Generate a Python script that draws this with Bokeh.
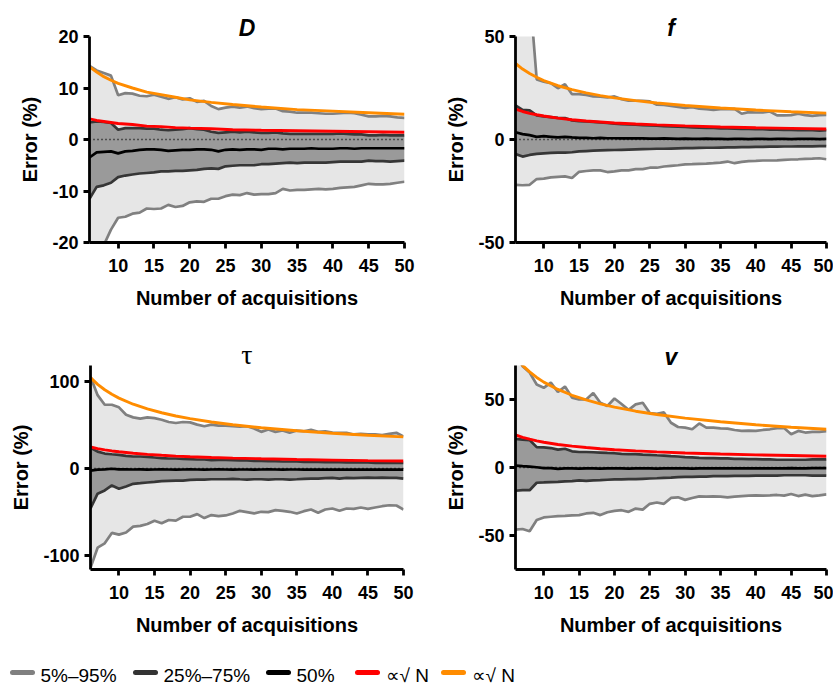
from bokeh.plotting import figure
from bokeh.models import Range1d, FixedTicker, Span, PrintfTickFormatter
from bokeh.layouts import column, row
from bokeh.embed import file_html
from bokeh.resources import INLINE
from bokeh.core.properties import value

# ---------------- data ----------------
N = list(range(6, 51))
X_TICKS = [10, 15, 20, 25, 30, 35, 40, 45, 50]
N_CURVE = [6, 7, 8, 9, 10, 12, 14, 16, 18, 20, 23, 26, 30, 35, 40, 45, 50]

# Panel D
D_P95 = [14.3, 13.4, 12.9, 12.4,
         8.6, 9.0, 8.9, 8.5, 8.4, 8.7, 8.3, 7.9, 8.2, 7.8,
         8.0, 7.3, 7.5, 6.5, 5.9, 6.2, 6.4, 6.2, 6.4, 6.1,
         5.9, 6.0, 6.0, 5.5, 5.4, 5.2, 5.2, 5.2, 5.1, 5.0,
         5.0, 5.1, 5.2, 5.1, 4.8, 4.5, 4.5, 4.6, 4.5, 4.3, 4.2]
D_P75 = [3.3, 3.5, 3.4, 3.2,
         1.9, 2.2, 2.2, 2.2, 2.1, 2.1, 1.9, 1.8, 1.9, 2.0,
         2.2, 2.0, 1.9, 1.5, 1.3, 1.4, 1.5, 1.4, 1.5, 1.4,
         1.3, 1.3, 1.4, 1.2, 1.1, 1.1, 1.1, 1.1, 1.1, 1.1,
         1.1, 1.2, 1.1, 1.0, 1.0, 0.8, 0.8, 0.9, 0.8, 0.8, 0.8]
D_P50 = [-3.5, -2.5, -2.4, -2.3,
         -2.7, -2.3, -2.2, -2.0, -1.9, -1.9, -2.0, -2.2, -2.1, -2.0,
         -2.0, -1.9, -1.9, -2.0, -2.3, -2.0, -1.9, -2.0, -1.9, -1.9,
         -2.0, -1.8, -1.8, -1.9, -1.8, -1.8, -1.8, -1.7, -1.8, -1.8,
         -1.8, -1.7, -1.7, -1.8, -1.7, -1.7, -1.7, -1.7, -1.7, -1.7, -1.7]
D_P25 = [-11.5, -9.2, -8.9, -8.4,
         -7.3, -7.0, -6.8, -6.6, -6.5, -6.4, -6.2, -6.2, -6.1, -6.1,
         -6.0, -5.9, -5.7, -5.6, -5.7, -5.2, -5.1, -5.0, -5.0, -5.0,
         -4.8, -4.8, -4.7, -4.6, -4.5, -4.6, -4.5, -4.5, -4.5, -4.5,
         -4.4, -4.3, -4.3, -4.3, -4.3, -4.1, -4.2, -4.2, -4.3, -4.2, -4.1]
D_P5 = [-26.0, -23.5, -20.5, -17.5,
        -15.2, -15.0, -14.4, -14.2, -13.4, -13.5, -13.4, -12.7, -13.1, -12.9,
        -12.2, -12.0, -12.1, -11.5, -11.5, -11.0, -10.7, -10.8, -10.4, -10.7,
        -10.6, -10.6, -10.4, -9.6, -9.9, -9.8, -9.8, -9.7, -9.6, -9.7,
        -9.6, -9.4, -9.3, -9.2, -8.9, -8.6, -8.7, -8.7, -8.6, -8.4, -8.2]
D_RED = [4.0, 3.7, 3.5, 3.3, 3.1, 2.9, 2.6, 2.5, 2.3, 2.2, 2.1, 1.9, 1.8, 1.7, 1.6, 1.5, 1.4]
D_ORANGE = [14.1, 13.1, 12.2, 11.5, 10.9, 10.0, 9.2, 8.7, 8.2, 7.7, 7.2, 6.8, 6.3, 5.8, 5.5, 5.2, 4.9]

# Panel f
F_P95 = [110.0, 90.0, 72.0, 29.2,
         28.1, 27.3, 24.9, 26.8, 22.0, 22.0, 21.6, 20.9, 20.8, 20.4,
         20.9, 19.6, 18.8, 18.8, 18.8, 18.5, 16.9, 16.8, 16.3, 15.8,
         15.3, 15.7, 15.0, 14.7, 14.4, 14.7, 14.7, 14.9, 12.5, 13.3,
         13.1, 13.1, 13.6, 11.7, 11.7, 11.8, 12.5, 11.8, 11.5, 11.8, 12.0]
F_P75 = [16.5, 14.4, 14.1, 11.7,
         11.2, 10.9, 10.5, 10.4, 9.3, 8.9, 8.8, 8.6, 8.3, 8.0,
         7.7, 7.5, 7.3, 7.2, 7.0, 6.9, 6.7, 6.5, 6.4, 6.2,
         6.1, 5.9, 5.8, 5.6, 5.6, 5.4, 5.4, 5.3, 5.1, 5.1,
         5.0, 5.0, 4.8, 4.8, 4.6, 4.6, 4.5, 4.5, 4.5, 4.3, 4.5]
F_P50 = [3.5, 2.6, 2.1, 1.3,
         1.6, 1.3, 1.0, 1.3, 1.0, 0.8, 0.8, 0.6, 0.8, 0.6,
         0.6, 0.5, 0.5, 0.6, 0.5, 0.4, 0.4, 0.5, 0.4, 0.3,
         0.4, 0.3, 0.3, 0.4, 0.3, 0.3, 0.2, 0.3, 0.3, 0.2,
         0.3, 0.3, 0.2, 0.3, 0.3, 0.2, 0.3, 0.3, 0.3, 0.2, 0.3]
F_P25 = [-7.0, -8.3, -7.5, -7.0,
         -6.7, -6.5, -6.4, -6.4, -6.2, -5.8, -5.6, -5.4, -5.3, -5.2,
         -5.1, -5.0, -4.9, -4.8, -4.7, -4.6, -4.5, -4.5, -4.4, -4.3,
         -4.2, -4.2, -4.1, -4.0, -4.0, -3.9, -3.8, -3.8, -3.7, -3.7,
         -3.6, -3.6, -3.5, -3.5, -3.4, -3.4, -3.3, -3.3, -3.3, -3.2, -3.2]
F_P5 = [-22.0, -22.2, -22.0, -19.2,
        -19.0, -18.4, -18.1, -17.9, -18.7, -15.7, -15.3, -15.0, -15.0, -15.8,
        -15.5, -15.0, -15.0, -14.4, -14.4, -13.7, -13.7, -13.1, -12.8, -12.5,
        -12.1, -12.0, -11.8, -11.7, -11.5, -11.2, -10.7, -11.5, -10.9, -10.5,
        -10.4, -10.2, -10.2, -10.1, -9.9, -9.7, -9.6, -9.4, -9.3, -9.1, -9.6]
F_RED = [14.7, 13.6, 12.7, 12.0, 11.4, 10.4, 9.6, 9.0, 8.5, 8.0, 7.5, 7.1, 6.6, 6.1, 5.7, 5.4, 5.1]
F_ORANGE = [36.9, 34.2, 32.0, 30.2, 28.6, 26.1, 24.2, 22.6, 21.3, 20.2, 18.9, 17.7, 16.5, 15.3, 14.3, 13.5, 12.8]

# Panel tau
T_P95 = [105.0, 84.0, 73.0, 73.0,
         70.0, 61.5, 58.5, 57.0, 58.5, 57.7, 55.8, 53.2, 52.0, 53.2,
         52.8, 50.2, 48.3, 50.2, 49.0, 49.0, 48.3, 47.9, 48.3, 45.7,
         41.9, 44.5, 41.9, 43.4, 40.8, 43.4, 42.6, 44.2, 41.9, 42.6,
         41.1, 40.8, 40.8, 38.9, 39.6, 38.9, 38.9, 38.1, 39.6, 40.8, 36.6]
T_P75 = [23.8, 19.2, 17.0, 16.2,
         15.5, 14.3, 13.6, 13.6, 13.2, 12.5, 11.7, 11.3, 11.3, 10.9,
         10.6, 10.2, 10.2, 9.4, 9.8, 9.8, 9.4, 9.1, 9.1, 8.7,
         8.7, 8.3, 8.3, 7.9, 7.9, 7.9, 7.5, 7.5, 7.5, 7.2,
         7.2, 7.2, 6.8, 6.8, 6.8, 6.8, 6.4, 6.4, 6.4, 6.4, 6.4]
T_P50 = [-2.6, -1.5, -1.1, -0.4,
         -1.1, -1.2, -1.3, -1.2, -1.4, -1.3, -1.2, -1.3, -1.4, -1.3,
         -1.2, -1.3, -1.4, -1.3, -1.2, -1.3, -1.4, -1.3, -1.3, -1.4,
         -1.3, -1.2, -1.3, -1.4, -1.3, -1.3, -1.4, -1.4, -1.3, -1.4,
         -1.4, -1.5, -1.4, -1.4, -1.5, -1.5, -1.4, -1.5, -1.5, -1.5, -1.5]
T_P25 = [-46.0, -29.0, -25.3, -19.6,
         -23.4, -20.8, -17.7, -17.0, -16.2, -15.5, -14.7, -14.3, -14.0, -14.0,
         -13.2, -12.8, -12.8, -12.5, -12.5, -12.5, -12.1, -12.5, -12.8, -12.5,
         -12.5, -12.8, -12.5, -12.5, -12.8, -12.5, -12.1, -11.7, -11.7, -11.3,
         -10.9, -11.7, -10.9, -11.3, -10.9, -10.6, -10.9, -10.6, -10.9, -10.9, -11.7]
T_P5 = [-114.0, -91.0, -86.0, -74.0,
        -76.0, -73.6, -66.8, -66.0, -63.8, -60.0, -63.0, -59.2, -60.0, -55.5,
        -55.5, -52.5, -57.0, -53.6, -54.7, -54.0, -51.7, -48.7, -50.2, -51.7,
        -49.8, -50.2, -47.9, -48.7, -49.8, -51.7, -49.1, -47.2, -50.9, -47.2,
        -46.0, -48.7, -46.0, -46.4, -44.9, -46.4, -44.9, -43.4, -42.3, -42.6, -47.2]
T_RED = [24.5, 22.7, 21.2, 20.0, 19.0, 17.3, 16.0, 15.0, 14.1, 13.4, 12.5, 11.8, 11.0, 10.1, 9.5, 8.9, 8.5]
T_ORANGE = [104.1, 96.4, 90.2, 85.0, 80.6, 73.6, 68.2, 63.8, 60.1, 57.0, 53.2, 50.0, 46.6, 43.1, 40.3, 38.0, 36.1]

# Panel v
V_P95 = [85.0, 74.5, 69.8, 61.0,
         58.6, 62.4, 55.5, 59.5, 51.4, 50.0, 50.0, 54.8, 47.6, 45.2,
         50.7, 46.7, 42.4, 46.4, 47.6, 40.0, 39.5, 40.5, 32.9, 29.8,
         29.3, 28.1, 32.4, 29.3, 29.3, 28.8, 28.6, 27.6, 26.9, 27.1,
         26.9, 27.6, 28.1, 29.0, 29.0, 24.5, 26.9, 25.7, 26.2, 26.2, 26.7]
V_P75 = [21.0, 20.5, 20.2, 15.0,
         14.8, 14.3, 13.1, 13.8, 11.9, 11.4, 11.4, 11.2, 11.0, 10.7,
         10.5, 10.0, 9.8, 9.8, 9.5, 9.3, 9.0, 8.8, 8.3, 8.1,
         7.6, 7.4, 7.1, 6.9, 6.9, 6.7, 6.7, 6.4, 6.4, 6.2,
         6.2, 6.0, 6.0, 5.7, 5.7, 5.7, 5.7, 5.7, 6.0, 6.0, 6.0]
V_P50 = [1.4, 1.0, 0.7, 0.2,
         -0.5, -0.5, -1.0, -0.7, -0.6, -0.8, -0.7, -0.6, -0.8, -0.7,
         -0.6, -0.7, -0.8, -0.7, -0.6, -0.7, -0.8, -0.7, -0.6, -0.6,
         -0.7, -0.8, -0.7, -0.6, -0.7, -0.6, -0.7, -0.7, -0.6, -0.6,
         -0.7, -0.6, -0.6, -0.7, -0.6, -0.5, -0.6, -0.6, -0.5, -0.5, -0.5]
V_P25 = [-17.1, -16.7, -16.7, -11.2,
         -11.0, -10.7, -10.5, -10.2, -10.0, -9.5, -9.8, -9.5, -9.3, -9.0,
         -8.8, -8.8, -8.6, -8.6, -8.3, -8.1, -7.9, -7.6, -7.4, -7.1,
         -6.9, -6.9, -6.7, -6.7, -6.4, -6.4, -6.4, -6.2, -6.2, -6.2,
         -6.0, -6.0, -6.0, -6.0, -5.7, -5.7, -5.7, -5.7, -6.0, -6.0, -6.0]
V_P5 = [-45.7, -45.2, -46.9, -38.6,
        -36.7, -36.2, -35.7, -35.5, -35.2, -35.0, -33.8, -33.3, -35.0, -32.9,
        -31.9, -31.4, -32.6, -30.2, -31.0, -26.7, -25.7, -26.7, -22.4, -21.9,
        -23.8, -22.4, -21.2, -21.4, -21.2, -21.4, -21.9, -21.4, -21.0, -20.7,
        -20.5, -20.7, -20.5, -20.2, -20.7, -19.5, -21.0, -20.0, -21.0, -20.5, -19.8]
V_RED = [24.0, 22.2, 20.8, 19.6, 18.6, 16.9, 15.7, 14.7, 13.8, 13.1, 12.2, 11.5, 10.7, 9.9, 9.3, 8.8, 8.3]
V_ORANGE = [81.1, 75.1, 70.3, 66.2, 62.8, 57.4, 53.1, 49.7, 46.8, 44.4, 41.4, 39.0, 36.3, 33.6, 31.4, 29.6, 28.1]

D_YTICKS = [-20, -10, 0, 10, 20]
F_YTICKS = [-50, 0, 50]
T_YTICKS = [-100, 0, 100]
V_YTICKS = [-50, 0, 50]

LEGEND_LABELS = ["5%\u201395%", "25%\u201375%", "50%", "\u221d\u221a N", "\u221d\u221a N"]

# ---------------- style ----------------
LIGHT = "#e6e6e6"
DARK = "#9a9a9a"
C95 = "#808080"
C75 = "#363636"
C50 = "#000000"
RED = "#ff0000"
ORANGE = "#ff8c00"
FONT = "Liberation Sans"


def panel(title, tfont, tstyle, tsize, ylo, yhi, yticks, p5, p25, p50, p75, p95, red, orange,
          w, h, bl, br, bt, bb):
    p = figure(width=w, height=h, x_range=Range1d(6, 50), y_range=Range1d(ylo, yhi),
               output_backend="svg", toolbar_location=None,
               min_border_left=bl, min_border_right=br, min_border_top=bt, min_border_bottom=bb,
               background_fill_color="white", border_fill_color="white")
    p.outline_line_color = None
    p.xgrid.grid_line_color = None
    p.ygrid.grid_line_color = None
    p.title.text = title
    p.title.align = "center"
    p.title.text_font = tfont
    p.title.text_font_style = tstyle
    p.title.text_font_size = tsize
    p.title.text_color = "black"
    p.title.standoff = -8

    p.varea(x=N, y1=p5, y2=p95, fill_color=LIGHT)
    p.varea(x=N, y1=p25, y2=p75, fill_color=DARK)
    p.line(N, p95, line_color=C95, line_width=2.7)
    p.line(N, p5, line_color=C95, line_width=2.7)
    p.line(N, p75, line_color=C75, line_width=2.7)
    p.line(N, p25, line_color=C75, line_width=2.7)
    p.line(N, p50, line_color=C50, line_width=2.7)
    p.line(N_CURVE, red, line_color=RED, line_width=2.9)
    p.line(N_CURVE, orange, line_color=ORANGE, line_width=2.9)
    p.add_layout(Span(location=0, dimension="width", line_color="black",
                      line_dash="1 3", line_width=1.4))

    for ax in (p.xaxis[0], p.yaxis[0]):
        ax.axis_line_width = 2.8
        ax.axis_line_color = "black"
        ax.major_tick_line_width = 2.8
        ax.major_tick_out = 6
        ax.major_tick_in = 0
        ax.minor_tick_line_color = None
        ax.major_label_text_font = FONT
        ax.major_label_text_font_style = "bold"
        ax.major_label_text_font_size = "18px"
        ax.major_label_text_color = "black"
        ax.axis_label_text_font = FONT
        ax.axis_label_text_font_style = "bold"
        ax.axis_label_text_font_size = "20px"
        ax.axis_label_text_color = "black"
    p.xaxis.ticker = FixedTicker(ticks=X_TICKS)
    p.yaxis.ticker = FixedTicker(ticks=yticks)
    p.yaxis.formatter = PrintfTickFormatter(format="%d")
    p.xaxis.axis_label = "Number of acquisitions"
    p.yaxis.axis_label = "Error (%)"
    p.xaxis.major_label_standoff = 10
    p.xaxis.axis_label_standoff = 12
    p.yaxis.major_label_standoff = 5
    p.yaxis.axis_label_standoff = 8
    return p


pD = panel("D", FONT, "bold italic", "23px", -20, 20, D_YTICKS, D_P5, D_P25, D_P50, D_P75, D_P95,
           D_RED, D_ORANGE, 420, 330, 89, 16, 33, 88)
pF = panel("f", FONT, "bold italic", "23px", -50, 50, F_YTICKS, F_P5, F_P25, F_P50, F_P75, F_P95,
           F_RED, F_ORANGE, 413, 330, 95, 7, 36, 85)
pT = panel("\u03c4", "Liberation Serif", "normal", "28px", -116, 118, T_YTICKS, T_P5, T_P25, T_P50, T_P75, T_P95,
           T_RED, T_ORANGE, 420, 315, 90, 17, 32, 76)
pV = panel("v", FONT, "bold italic", "23px", -75, 75, V_YTICKS, V_P5, V_P25, V_P50, V_P75, V_P95,
           V_RED, V_ORANGE, 413, 315, 95, 7, 35, 72)

# ---------------- legend strip ----------------
leg = figure(width=833, height=40, x_range=Range1d(0, 833), y_range=Range1d(0, 40),
             output_backend="svg", toolbar_location=None, min_border=0,
             x_axis_type=None, y_axis_type=None,
             background_fill_color="white", border_fill_color="white")
leg.outline_line_color = None
leg.xgrid.visible = False
leg.ygrid.visible = False
swatch_x = [12, 135, 268, 357, 443]
swatch_c = [C95, "#333333", C50, RED, ORANGE]
for sx, col, lab in zip(swatch_x, swatch_c, LEGEND_LABELS):
    leg.line(x=[sx, sx + 20], y=[13, 13], line_color=col, line_width=5, line_cap="round")
    leg.text(x=[sx + 28], y=[10], text=[lab],
             text_font=value(FONT),
             text_font_size="19px", text_baseline="middle", text_align="left",
             text_color="black")

layout = column(row(pD, pF), row(pT, pV), leg)

with open("out.html", "w", encoding="utf-8") as fh:
    fh.write(file_html(layout, INLINE))
